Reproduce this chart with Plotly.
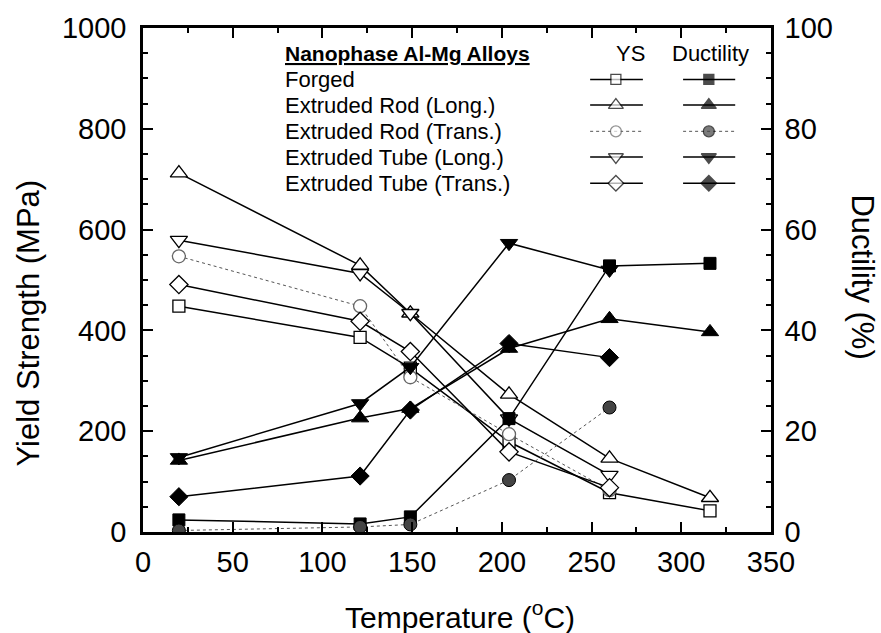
import plotly.graph_objects as go

# ---------------- data ----------------
temps = [20, 121, 149, 204, 260, 316]
alloys = ["Forged", "Extruded Rod (Long.)", "Extruded Rod (Trans.)",
          "Extruded Tube (Long.)", "Extruded Tube (Trans.)"]

ys_forged = [448, 386, 325, 179, 78, 42]
ys_rod_long = [712, 529, 434, 273, 146, 68]
ys_rod_trans = [547, 448, 307, 194, 83]
ys_tube_long = [579, 513, 434, 225, 113]
ys_tube_trans = [491, 418, 358, 159, 88]

duct_forged = [2.4, 1.6, 3.0, 22.5, 52.8, 53.3]
duct_rod_long = [14.2, 22.6, 24.5, 36.4, 42.3, 39.7]
duct_rod_trans = [0.3, 1.0, 1.5, 10.3, 24.7]
duct_tube_long = [14.8, 25.5, 32.7, 57.3, 52.0]
duct_tube_trans = [7.0, 11.1, 24.2, 37.4, 34.6]

x_ticks = [0, 50, 100, 150, 200, 250, 300, 350]
y_ticks = [0, 200, 400, 600, 800, 1000]
y2_ticks = [0, 20, 40, 60, 80, 100]

ys_all = [ys_forged, ys_rod_long, ys_rod_trans, ys_tube_long, ys_tube_trans]
duct_all = [duct_forged, duct_rod_long, duct_rod_trans, duct_tube_long, duct_tube_trans]

# ---------------- styles ----------------
FONT = "Liberation Sans, Arial, sans-serif"
symbols = ["square", "triangle-up", "circle", "triangle-down", "diamond"]
line_styles = [
    dict(color="black", width=1.5, dash="solid"),
    dict(color="black", width=1.5, dash="solid"),
    dict(color="#555555", width=1.0, dash="dot"),
    dict(color="black", width=1.5, dash="solid"),
    dict(color="black", width=1.5, dash="solid"),
]
open_outline = ["black", "black", "#666666", "black", "black"]
filled_color = ["black", "black", "#444444", "black", "black"]
msize = [12, 15, 13, 15, 14]

fig = go.Figure()

for i in range(5):
    xs = temps[:len(ys_all[i])]
    fig.add_trace(go.Scatter(
        x=xs, y=ys_all[i], mode="lines+markers", name=alloys[i] + " YS",
        line=line_styles[i],
        marker=dict(symbol=symbols[i], size=msize[i], color="white",
                    line=dict(color=open_outline[i], width=1.3)),
        showlegend=False))
for i in range(5):
    xs = temps[:len(duct_all[i])]
    fig.add_trace(go.Scatter(
        x=xs, y=duct_all[i], mode="lines+markers", name=alloys[i] + " Ductility",
        yaxis="y2", line=line_styles[i],
        marker=dict(symbol=symbols[i], size=msize[i], color=filled_color[i],
                    line=dict(color="black", width=1)),
        showlegend=False))

# ---------------- custom legend (overlay axes in plot-fraction units) ----------------
row_y = [0.898, 0.847, 0.795, 0.744, 0.692]
ys_line_x = [0.712, 0.753, 0.796]
du_line_x = [0.860, 0.901, 0.943]
for i in range(5):
    for lx, fill, outline in [(ys_line_x, "white", open_outline[i]),
                              (du_line_x, filled_color[i], "black")]:
        fig.add_trace(go.Scatter(
            x=lx, y=[row_y[i]] * 3, xaxis="x3", yaxis="y3",
            mode="lines+markers", line=line_styles[i],
            marker=dict(symbol=symbols[i], size=[0, msize[i] - 2, 0], color=fill,
                        line=dict(color=outline, width=[0, 1.3, 0])),
            showlegend=False, hoverinfo="skip"))

annotations = []
annotations.append(dict(xref="x3", yref="y3", x=0.223, y=0.950, xanchor="left",
                        yanchor="middle", showarrow=False,
                        text="<b><u>Nanophase Al-Mg Alloys</u></b>",
                        font=dict(family=FONT, size=21, color="black")))
annotations.append(dict(xref="x3", yref="y3", x=0.777, y=0.950, xanchor="center",
                        yanchor="middle", showarrow=False, text="YS",
                        font=dict(family=FONT, size=22, color="black")))
annotations.append(dict(xref="x3", yref="y3", x=0.903, y=0.950, xanchor="center",
                        yanchor="middle", showarrow=False, text="Ductility",
                        font=dict(family=FONT, size=22, color="black")))
for i in range(5):
    annotations.append(dict(xref="x3", yref="y3", x=0.223, y=row_y[i], xanchor="left",
                            yanchor="middle", showarrow=False, text=alloys[i],
                            font=dict(family=FONT, size=22, color="black")))

# axis titles
annotations.append(dict(xref="paper", yref="paper", x=-0.183, y=0.414, showarrow=False,
                        text="Yield Strength (MPa)", textangle=-90,
                        xanchor="center", yanchor="middle",
                        font=dict(family=FONT, size=31, color="black")))
annotations.append(dict(xref="paper", yref="paper", x=1.145, y=0.507, showarrow=False,
                        text="Ductility (%)", textangle=90,
                        xanchor="center", yanchor="middle",
                        font=dict(family=FONT, size=31, color="black")))
annotations.append(dict(xref="paper", yref="paper", x=0.505, y=-0.164, showarrow=False,
                        text="Temperature (<sup>o</sup>C)",
                        xanchor="center", yanchor="middle",
                        font=dict(family=FONT, size=30, color="black")))

tickfont = dict(family=FONT, size=29, color="black")
fig.update_layout(
    width=881, height=633,
    margin=dict(l=143, r=110, t=25, b=101),
    paper_bgcolor="white", plot_bgcolor="white",
    annotations=annotations,
    xaxis=dict(range=[0, 350], tickvals=x_ticks, ticks="inside", ticklen=10,
               tickwidth=2, tickcolor="black", showline=True, linecolor="black",
               linewidth=2.5, mirror="ticks", showgrid=False, zeroline=False,
               tickfont=tickfont, ticklabelstandoff=2,
               minor=dict(dtick=25, ticks="inside", ticklen=5, tickwidth=1.5,
                          tickcolor="black", showgrid=False)),
    yaxis=dict(range=[0, 1000], tickvals=y_ticks, ticks="inside", ticklen=10,
               tickwidth=2, tickcolor="black", showline=True, linecolor="black",
               linewidth=2.5, mirror=False, showgrid=False, zeroline=False,
               tickfont=tickfont, ticklabelstandoff=8,
               minor=dict(dtick=50, ticks="inside", ticklen=5, tickwidth=1.5,
                          tickcolor="black", showgrid=False)),
    yaxis2=dict(range=[0, 100], tickvals=y2_ticks, overlaying="y", side="right",
                ticks="inside", ticklen=10, tickwidth=2, tickcolor="black",
                showline=True, linecolor="black", linewidth=2.5, showgrid=False,
                zeroline=False, tickfont=tickfont, ticklabelstandoff=5,
                minor=dict(dtick=5, ticks="inside", ticklen=5, tickwidth=1.5,
                           tickcolor="black", showgrid=False)),
    xaxis3=dict(range=[0, 1], overlaying="x", visible=False, anchor="y3"),
    yaxis3=dict(range=[0, 1], overlaying="y", visible=False, anchor="x3"),
)

fig.write_html("out.html")
